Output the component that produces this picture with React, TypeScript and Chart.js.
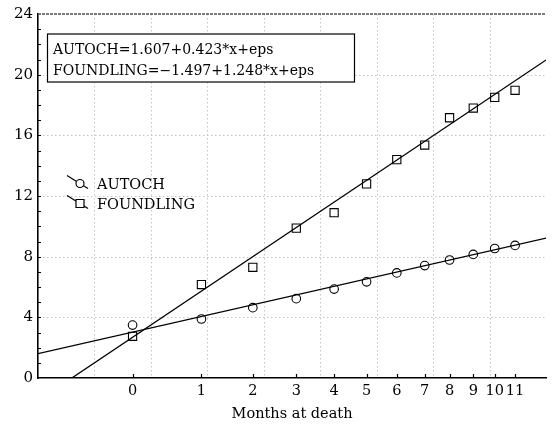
import React, { useEffect, useRef } from 'react';
import { Chart, registerables } from 'chart.js';

Chart.register(...registerables);

// Month tick labels and their positions on the (transformed) x scale
const monthLabels = ['0', '1', '2', '3', '4', '5', '6', '7', '8', '9', '10', '11'];
const monthPos = [3.35, 5.79, 7.61, 9.15, 10.49, 11.64, 12.71, 13.7, 14.58, 15.42, 16.18, 16.9];

// Observed values
const autochValues = [3.49, 3.89, 4.64, 5.23, 5.86, 6.34, 6.93, 7.41, 7.78, 8.15, 8.54, 8.74];
const foundlingValues = [2.75, 6.16, 7.3, 9.88, 10.9, 12.8, 14.4, 15.36, 17.16, 17.8, 18.5, 18.97];

// Fitted regression coefficients (intercept, slope)
const autochFit = [1.607, 0.423];
const foundlingFit = [-1.497, 1.248];

// Axis ranges / grid
const xRange = [0, 18];
const xGridValues = [2, 4, 6, 8, 10, 12, 14, 16];
const yRange = [0, 24];
const yTickStep = 4;
const yGridValues = [4, 8, 12, 16, 20];

const FONT = '"DejaVu Serif", serif';

const fmt = (v: number) => (v < 0 ? '\u2212' + Math.abs(v).toFixed(3) : v.toFixed(3));

const decor = {
  id: 'decor',
  beforeDatasetsDraw(chart: any) {
    const { ctx, chartArea: ca, scales } = chart;
    const x = scales.x;
    const y = scales.y;
    ctx.save();
    // grid
    ctx.strokeStyle = '#c4c4c4';
    ctx.lineWidth = 1;
    ctx.setLineDash([1.5, 2.5]);
    for (const v of yGridValues) {
      const py = Math.round(y.getPixelForValue(v)) + 0.5;
      ctx.beginPath();
      ctx.moveTo(ca.left + 1, py);
      ctx.lineTo(ca.right, py);
      ctx.stroke();
    }
    for (const v of xGridValues) {
      const px = Math.round(x.getPixelForValue(v)) + 0.5;
      ctx.beginPath();
      ctx.moveTo(px, ca.top);
      ctx.lineTo(px, ca.bottom - 1);
      ctx.stroke();
    }
    // top frame
    ctx.setLineDash([3, 1]);
    ctx.strokeStyle = '#505050';
    ctx.lineWidth = 1.5;
    ctx.beginPath();
    ctx.moveTo(ca.left, ca.top);
    ctx.lineTo(ca.right, ca.top);
    ctx.stroke();
    ctx.setLineDash([]);
    // minor y ticks (inward)
    ctx.strokeStyle = '#000';
    ctx.lineWidth = 1;
    for (let v = yRange[0] + 1; v < yRange[1]; v++) {
      const py = Math.round(y.getPixelForValue(v)) + 0.5;
      ctx.beginPath();
      ctx.moveTo(ca.left, py);
      ctx.lineTo(ca.left + 3, py);
      ctx.stroke();
    }
    // x ticks (inward)
    ctx.lineWidth = 1.2;
    for (const v of monthPos) {
      const px = Math.round(x.getPixelForValue(v)) + 0.5;
      ctx.beginPath();
      ctx.moveTo(px, ca.bottom);
      ctx.lineTo(px, ca.bottom - 4);
      ctx.stroke();
    }
    // equation box
    const bx = ca.left + 9;
    const by = ca.top + 19.5;
    const bw = 307;
    const bh = 48;
    ctx.fillStyle = '#fff';
    ctx.fillRect(bx, by, bw, bh);
    ctx.strokeStyle = '#000';
    ctx.lineWidth = 1.2;
    ctx.strokeRect(bx + 0.5, by + 0.5, bw, bh);
    ctx.fillStyle = '#000';
    ctx.font = '14px ' + FONT;
    ctx.textBaseline = 'middle';
    ctx.textAlign = 'left';
    const ds = chart.data.datasets;
    ctx.fillText(`${ds[0].label}=${fmt(autochFit[0])}+${fmt(autochFit[1])}*x+eps`, bx + 6, by + 17);
    ctx.fillText(`${ds[1].label}=${fmt(foundlingFit[0])}+${fmt(foundlingFit[1])}*x+eps`, bx + 6, by + 38);
    ctx.restore();
  },
  afterDatasetsDraw(chart: any) {
    const { ctx, chartArea: ca } = chart;
    const ds = chart.data.datasets;
    ctx.save();
    ctx.font = '14.5px ' + FONT;
    ctx.textBaseline = 'middle';
    ctx.textAlign = 'left';
    const items = [0, 1];
    items.forEach((i, k) => {
      const d = ds[i];
      const cy = ca.top + 170.5 + k * 20;
      const mx = ca.left + 42;
      ctx.strokeStyle = '#000';
      ctx.lineWidth = 1.2;
      ctx.beginPath();
      ctx.moveTo(ca.left + 29, cy - 9);
      ctx.lineTo(ca.left + 50, cy + 4);
      ctx.stroke();
      ctx.fillStyle = '#fff';
      ctx.beginPath();
      if (d.pointStyle === 'rect') {
        const s = 4;
        ctx.rect(mx - s, cy - 1 - s, 2 * s, 2 * s);
      } else {
        ctx.arc(mx, cy - 1, 4, 0, Math.PI * 2);
      }
      ctx.fill();
      ctx.stroke();
      ctx.fillStyle = '#000';
      ctx.fillText(d.label, ca.left + 59, cy + 1);
    });
    ctx.restore();
  },
};

export default function App() {
  const ref = useRef<HTMLCanvasElement>(null);
  useEffect(() => {
    const fitLine = (c: number[]) => [
      { x: xRange[0], y: c[0] + c[1] * xRange[0] },
      { x: xRange[1], y: c[0] + c[1] * xRange[1] },
    ];
    const chart = new Chart(ref.current as HTMLCanvasElement, {
      type: 'scatter',
      data: {
        datasets: [
          {
            label: 'AUTOCH',
            data: monthPos.map((p, i) => ({ x: p, y: autochValues[i] })),
            pointStyle: 'circle',
            pointRadius: 4.3,
            pointBorderWidth: 1.1,
            borderColor: '#000',
            backgroundColor: 'rgba(0,0,0,0)',
            order: 1,
          },
          {
            label: 'FOUNDLING',
            data: monthPos.map((p, i) => ({ x: p, y: foundlingValues[i] })),
            pointStyle: 'rect',
            pointRadius: 5.8,
            pointBorderWidth: 1.1,
            borderColor: '#000',
            backgroundColor: 'rgba(0,0,0,0)',
            order: 1,
          },
          {
            label: 'AUTOCH fit',
            data: fitLine(autochFit),
            showLine: true,
            pointRadius: 0,
            borderColor: '#000',
            borderWidth: 1.3,
            order: 2,
          },
          {
            label: 'FOUNDLING fit',
            data: fitLine(foundlingFit),
            showLine: true,
            pointRadius: 0,
            borderColor: '#000',
            borderWidth: 1.3,
            order: 2,
          },
        ],
      },
      options: {
        animation: false,
        responsive: false,
        devicePixelRatio: 1,
        layout: { padding: { top: 12.5, right: 1, left: 0, bottom: 0 } },
        plugins: {
          legend: { display: false },
          tooltip: { enabled: false },
        },
        scales: {
          x: {
            type: 'linear',
            min: xRange[0],
            max: xRange[1],
            afterBuildTicks: (axis: any) => {
              axis.ticks = monthPos.map((v) => ({ value: v }));
            },
            afterFit: (axis: any) => {
              axis.height = 49;
            },
            ticks: {
              autoSkip: false,
              maxRotation: 0,
              padding: 5,
              color: '#000',
              font: { family: FONT, size: 14.5 },
              callback: (_v: any, i: number) => monthLabels[i],
            },
            grid: { display: false, drawTicks: false },
            border: { display: true, color: '#000', width: 1.6 },
            title: {
              display: true,
              text: 'Months at death',
              color: '#000',
              font: { family: FONT, size: 14.5 },
              padding: { top: 4, bottom: 4 },
            },
          },
          y: {
            type: 'linear',
            min: yRange[0],
            max: yRange[1],
            afterFit: (axis: any) => {
              axis.width = 38;
            },
            ticks: {
              stepSize: yTickStep,
              padding: 5,
              color: '#000',
              font: { family: FONT, size: 15 },
            },
            grid: { display: false, drawTicks: false },
            border: { display: true, color: '#000', width: 1.6 },
          },
        },
      },
      plugins: [decor],
    } as any);
    return () => chart.destroy();
  }, []);
  return (
    <div style={{ position: 'fixed', left: 0, top: 0, width: 553, height: 427, background: '#fff' }}>
      <canvas ref={ref} width={553} height={427} style={{ display: 'block' }} />
    </div>
  );
}
